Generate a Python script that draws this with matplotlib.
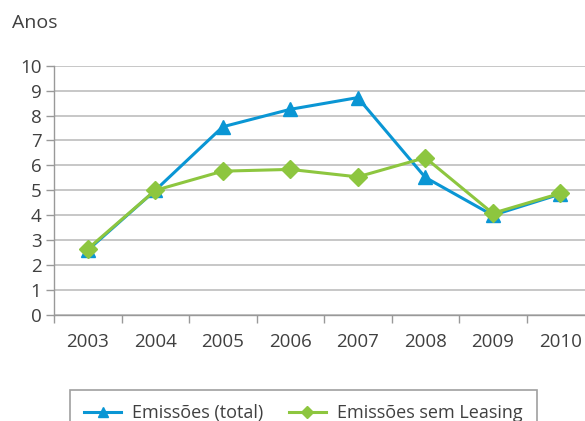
import matplotlib
matplotlib.use("Agg")
import matplotlib.pyplot as plt
from matplotlib.ticker import FixedLocator

years = ["2003", "2004", "2005", "2006", "2007", "2008", "2009", "2010"]
total = [2.6, 5.0, 7.55, 8.25, 8.72, 5.52, 4.0, 4.85]
sem_leasing = [2.65, 5.0, 5.77, 5.84, 5.54, 6.31, 4.08, 4.88]
yticks = list(range(0, 11))

plt.rcParams['font.family'] = ['Open Sans', 'DejaVu Sans']
txt = '#404040'
blue = '#0A96D4'
green = '#8DC63F'
grid = '#BEBEBE'

fig = plt.figure(figsize=(5.85, 4.21), dpi=100)
ax = fig.add_axes([54/585, 106/421, 540/585, 249.3/421])
x = list(range(len(years)))
ax.plot(x, total, color=blue, lw=2.2, marker='^', ms=10, label='Emissões (total)', zorder=3)
ax.plot(x, sem_leasing, color=green, lw=2.2, marker='D', ms=9, label='Emissões sem Leasing', zorder=4)

ax.set_xlim(-0.5, len(years) - 0.5)
ax.set_ylim(0, 10)
ax.set_yticks(yticks)
ax.yaxis.grid(True, color=grid, lw=1.2)
ax.set_axisbelow(True)
ax.set_xticks(x)
ax.set_xticklabels(years)
ax.xaxis.set_minor_locator(FixedLocator([i - 0.5 for i in range(len(years) + 1)]))
ax.tick_params(axis='x', which='major', length=0, pad=13, labelsize=13.5, labelcolor=txt)
ax.tick_params(axis='x', which='minor', length=6, color='#999999', width=1)
ax.tick_params(axis='y', length=6, color='#999999', width=1, pad=3, labelsize=13.5, labelcolor=txt)
for s in ['top', 'right']:
    ax.spines[s].set_visible(False)
for s in ['left', 'bottom']:
    ax.spines[s].set_color('#999999')
    ax.spines[s].set_linewidth(1)

fig.text(12/585, 1 - 23/421, 'Anos', fontsize=14, color=txt, va='center', ha='left')

leg = fig.legend(loc='upper left', bbox_to_anchor=(70/585, 1 - 390/421), ncol=2,
                 frameon=True, fancybox=False, edgecolor='#888888', fontsize=13,
                 handlelength=2.05, handletextpad=0.6, columnspacing=1.4,
                 borderpad=0.8, markerscale=0.65, borderaxespad=0)
for t in leg.get_texts():
    t.set_color(txt)
leg.get_frame().set_linewidth(1.2)

fig.savefig('out.png', dpi=100)
